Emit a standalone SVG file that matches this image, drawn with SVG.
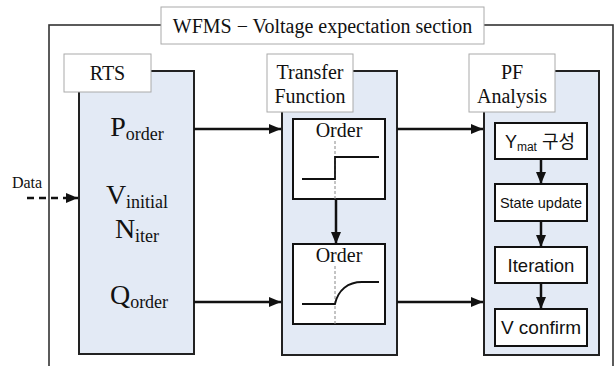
<svg xmlns="http://www.w3.org/2000/svg" width="616" height="366" viewBox="0 0 616 366">
<defs>
<marker id="ah" viewBox="0 0 12 10" refX="12" refY="5" markerWidth="12" markerHeight="10" markerUnits="userSpaceOnUse" orient="auto">
<path d="M0,0 L12,5 L0,10 Z" fill="#111"/>
</marker>
</defs>
<style>
.frame{fill:none;stroke:#333;stroke-width:1.6}
.panel{fill:#e3eaf5;stroke:#222;stroke-width:2}
.tab{fill:#fff;stroke:#aaa;stroke-width:1}
.box{fill:#fff;stroke:#111;stroke-width:2}
.serif{font-family:"Liberation Serif","Times New Roman",serif;fill:#111}
.sans{font-family:"Liberation Sans","Noto Sans CJK KR",sans-serif;fill:#111}
.arrow{stroke:#111;stroke-width:2.5;fill:none;marker-end:url(#ah)}
.curve{stroke:#111;stroke-width:1.8;fill:none}
.dash{stroke:#888;stroke-width:1;stroke-dasharray:3,2;fill:none}
</style>
<rect width="616" height="366" fill="#fff"/>
<g id="frame">
<rect class="frame" x="49" y="25" width="564" height="360"/>
<rect class="tab" x="161" y="7" width="323" height="37"/>
<text class="serif" x="322.5" y="33" font-size="20" text-anchor="middle">WFMS − Voltage expectation section</text>
</g>
<g id="rts">
<rect class="panel" x="79" y="71" width="115" height="283"/>
<rect class="tab" x="64" y="54" width="87" height="38"/>
<text class="serif" x="107.5" y="80" font-size="20" text-anchor="middle">RTS</text>
<text class="serif" x="137" y="136" font-size="28" text-anchor="middle">P<tspan font-size="18" dy="4">order</tspan></text>
<text class="serif" x="137" y="204" font-size="28" text-anchor="middle">V<tspan font-size="18" dy="4">initial</tspan></text>
<text class="serif" x="137" y="238" font-size="28" text-anchor="middle">N<tspan font-size="18" dy="4">iter</tspan></text>
<text class="serif" x="139" y="304" font-size="28" text-anchor="middle">Q<tspan font-size="18" dy="4">order</tspan></text>
</g>
<g id="transfer">
<rect class="panel" x="282" y="71" width="115" height="284"/>
<rect class="tab" x="267" y="54" width="86" height="58"/>
<text class="serif" x="310" y="79" font-size="20" text-anchor="middle">Transfer</text>
<text class="serif" x="310" y="103" font-size="20" text-anchor="middle">Function</text>
</g>
<g id="order1">
<rect class="box" x="293" y="119" width="92" height="80"/>
<text class="serif" x="339" y="137" font-size="20" text-anchor="middle">Order</text>
<line class="dash" x1="335" y1="141" x2="335" y2="199"/>
<path class="curve" d="M302,179 H335 V157 H379"/>
</g>
<g id="order2">
<rect class="box" x="293" y="244" width="92" height="80"/>
<text class="serif" x="339" y="262" font-size="20" text-anchor="middle">Order</text>
<line class="dash" x1="335" y1="266" x2="335" y2="324"/>
<path class="curve" d="M302,304 H335 C338,290 348,282 362,282 H379"/>
</g>
<g id="pf">
<rect class="panel" x="484" y="71" width="115" height="284"/>
<rect class="tab" x="469" y="54" width="86" height="58"/>
<text class="serif" x="512" y="79" font-size="20" text-anchor="middle">PF</text>
<text class="serif" x="512" y="103" font-size="20" text-anchor="middle">Analysis</text>
</g>
<g id="ymat">
<rect class="box" x="495" y="123" width="92" height="36"/>
<text class="sans" x="540" y="148" font-size="18" text-anchor="middle">Y<tspan font-size="12" dy="3">mat</tspan><tspan dy="-3"> 구성</tspan></text>
</g>
<g id="state">
<rect class="box" x="495" y="184" width="92" height="37"/>
<text class="sans" x="541" y="208" font-size="14.5" text-anchor="middle">State update</text>
</g>
<g id="iteration">
<rect class="box" x="495" y="247" width="92" height="36"/>
<text class="sans" x="541" y="272" font-size="18.5" text-anchor="middle">Iteration</text>
</g>
<g id="vconfirm">
<rect class="box" x="495" y="309" width="92" height="37"/>
<text class="sans" x="541" y="334" font-size="19" text-anchor="middle">V confirm</text>
</g>
<g id="data">
<text class="serif" x="27" y="188" font-size="16" text-anchor="middle">Data</text>
</g>
<g id="connectors">
<line x1="27" y1="198" x2="78" y2="198" stroke="#111" stroke-width="2.5" stroke-dasharray="7,5" marker-end="url(#ah)"/>
<line class="arrow" x1="194" y1="129" x2="281" y2="129"/>
<line class="arrow" x1="194" y1="302" x2="281" y2="302"/>
<line class="arrow" x1="397" y1="129" x2="483" y2="129"/>
<line class="arrow" x1="397" y1="302" x2="483" y2="302"/>
<line class="arrow" x1="336" y1="199" x2="336" y2="244"/>
<line class="arrow" x1="541" y1="159" x2="541" y2="184"/>
<line class="arrow" x1="541" y1="221" x2="541" y2="247"/>
<line class="arrow" x1="541" y1="283" x2="541" y2="309"/>
</g>
</svg>
